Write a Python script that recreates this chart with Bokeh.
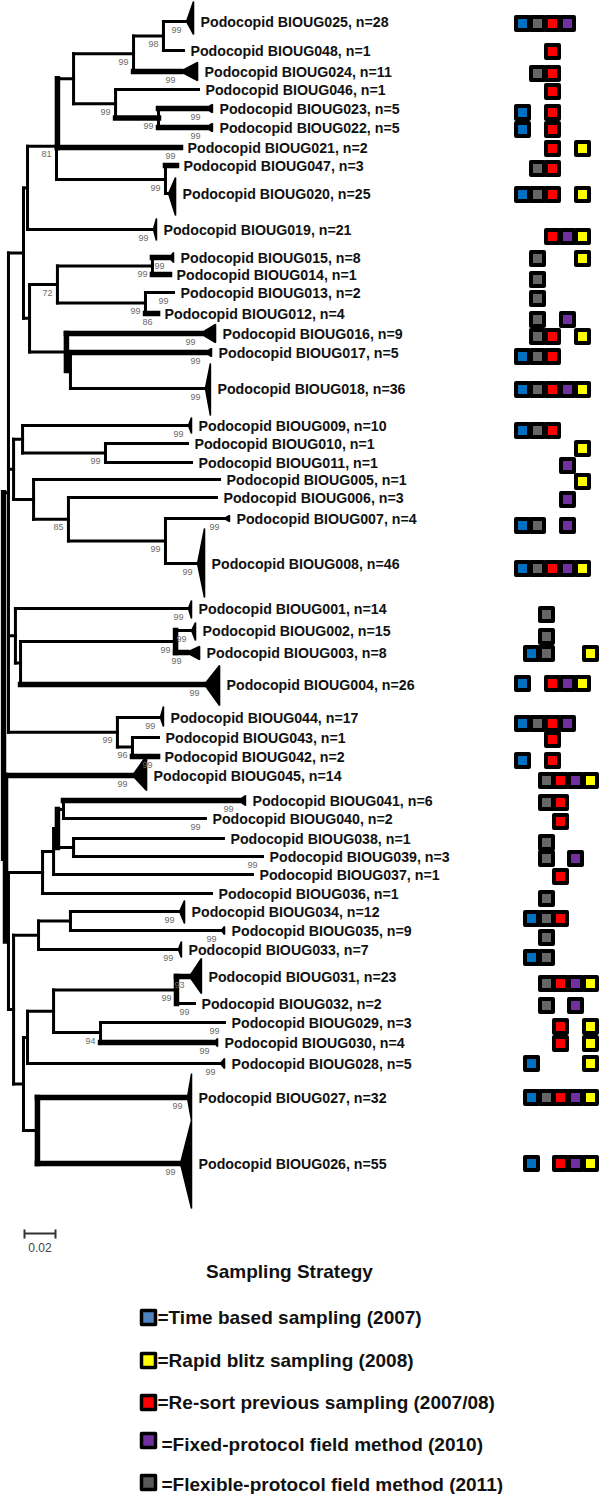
from bokeh.plotting import figure
from bokeh.models import Range1d
from bokeh.embed import file_html
from bokeh.resources import INLINE
from bokeh.core.properties import value

# ---------------- data ----------------
tip_ids = ["025", "048", "024", "046", "023", "022", "021", "047", "020", "019",
           "015", "014", "013", "012", "016", "017", "018",
           "009", "010", "011", "005", "006", "007", "008",
           "001", "002", "003", "004",
           "044", "043", "042", "045",
           "041", "040", "038", "039", "037", "036",
           "034", "035", "033", "031", "032", "029", "030", "028", "027", "026"]
tip_n = [28, 1, 11, 1, 5, 5, 2, 3, 25, 21,
         8, 1, 2, 4, 9, 5, 36,
         10, 1, 1, 1, 3, 4, 46,
         14, 15, 8, 26,
         17, 1, 2, 14,
         6, 2, 1, 3, 1, 1,
         12, 9, 7, 23, 2, 3, 4, 5, 32, 55]
# distance from root (substitutions/site) of each tip
tip_depth = [0.1226, 0.1161, 0.1252, 0.1258, 0.1348, 0.1348, 0.1142, 0.1116, 0.1110, 0.0987,
             0.1097, 0.1071, 0.1097, 0.0994, 0.1368, 0.1342, 0.1335,
             0.1213, 0.1187, 0.1213, 0.1394, 0.1374, 0.1458, 0.1297,
             0.1213, 0.1239, 0.1265, 0.1394,
             0.1032, 0.1000, 0.0994, 0.0923,
             0.1561, 0.1303, 0.1419, 0.1671, 0.1606, 0.1342,
             0.1168, 0.1426, 0.1148, 0.1277, 0.1232, 0.1426, 0.1381, 0.1426, 0.1213, 0.1213]
# depth of collapsed clades (triangle length)
tri_len = {"025": 0.0045, "024": 0.0110, "023": 0.0045, "022": 0.0045, "020": 0.0045,
           "019": 0.0020, "015": 0.0026, "016": 0.0097, "017": 0.0039, "018": 0.0032,
           "009": 0.0020, "007": 0.0032, "008": 0.0045, "001": 0.0020, "002": 0.0026,
           "003": 0.0084, "004": 0.0097, "044": 0.0020, "045": 0.0090, "041": 0.0045,
           "034": 0.0032, "035": 0.0020, "033": 0.0020, "031": 0.0077, "030": 0.0020,
           "028": 0.0026, "027": 0.0026, "026": 0.0071}
# internal nodes: (name, depth, children)
nodes = [
    ("nA", 0.1032, ["025", "048"]),
    ("nB", 0.0839, ["nA", "024"]),
    ("nC", 0.1000, ["023", "022"]),
    ("nD", 0.0723, ["046", "nC"]),
    ("nE", 0.0452, ["nB", "nD"]),
    ("nG1", 0.0348, ["nE", "021"]),
    ("nF", 0.1045, ["047", "020"]),
    ("nG", 0.0342, ["nG1", "nF"]),
    ("nH", 0.0155, ["nG", "019"]),
    ("nL", 0.0961, ["015", "014"]),
    ("nM", 0.0916, ["013", "012"]),
    ("nK", 0.0348, ["nL", "nM"]),
    ("nO", 0.0432, ["017", "018"]),
    ("nN", 0.0406, ["016", "nO"]),
    ("nJ", 0.0168, ["nK", "nN"]),
    ("nI", 0.0129, ["nH", "nJ"]),
    ("nP", 0.0658, ["010", "011"]),
    ("nQ", 0.0123, ["009", "nP"]),
    ("nT", 0.1045, ["007", "008"]),
    ("nU", 0.0419, ["006", "nT"]),
    ("nS", 0.0194, ["005", "nU"]),
    ("nR", 0.0065, ["nQ", "nS"]),
    ("nV", 0.1110, ["002", "003"]),
    ("nW", 0.0110, ["nV", "004"]),
    ("nX", 0.0077, ["001", "nW"]),
    ("nZ", 0.0832, ["043", "042"]),
    ("nY", 0.0735, ["044", "nZ"]),
    ("nAA", 0.0387, ["041", "040"]),
    ("nAB", 0.0452, ["038", "039"]),
    ("nAC", 0.0348, ["nAA", "nAB"]),
    ("nAD", 0.0323, ["nAC", "037"]),
    ("nAE", 0.0252, ["nAD", "036"]),
    ("nAF", 0.0432, ["034", "035"]),
    ("nAG", 0.0226, ["nAF", "033"]),
    ("nAH", 0.1116, ["031", "032"]),
    ("nAI", 0.0626, ["029", "030"]),
    ("nAJ", 0.0323, ["nAH", "nAI"]),
    ("nAK", 0.0155, ["nAJ", "028"]),
    ("nAM", 0.0219, ["027", "026"]),
    ("nAL", 0.0129, ["nAK", "nAM"]),
    ("nAN", 0.0065, ["nAG", "nAL"]),
    ("nAO", 0.0032, ["nAE", "nAN"]),
    ("nU2", 0.0013, ["045", "nAO"]),
    ("nU1", 0.0032, ["nI", "nR", "nX", "nY"]),
    ("root", 0.0000, ["nU1", "nU2"]),
]
bootstrap = {"nA": 98, "nB": 99, "nC": 99, "nD": 99, "nG": 81, "nF": 99, "nL": 99, "nK": 72,
             "nM": 99, "nP": 99, "nU": 85, "nT": 99, "nV": 99, "nY": 99, "nZ": 96,
             "nAH": 99, "nAI": 94,
             "025": 99, "024": 99, "023": 99, "022": 99, "021": 99, "019": 99, "015": 99,
             "013": 99, "012": 86, "016": 99, "017": 99, "018": 99, "009": 99, "007": 99,
             "008": 99, "001": 99, "002": 99, "003": 99, "004": 99, "044": 99, "042": 99,
             "045": 99, "041": 99, "040": 99, "039": 99, "034": 99, "035": 99, "033": 99,
             "031": 93, "032": 99, "029": 99, "030": 99, "028": 99, "027": 99, "026": 99}
# sampling strategies in which each OTU was found
# B=time based, Y=rapid blitz, R=re-sort, P=fixed-protocol, G=flexible-protocol
sampling = ["BGRP", "R", "GR", "R", "BR", "BR", "RY", "GR", "BGRY", "RPY",
            "GY", "G", "G", "GP", "GRY", "BGR", "BGRPY",
            "BGR", "Y", "P", "Y", "P", "BGP", "BGRPY",
            "G", "G", "BGY", "BRPY",
            "BGRP", "R", "BR", "GRPY",
            "GR", "R", "G", "GP", "R", "G",
            "BGR", "G", "BG", "GRPY", "GP", "RY", "RY", "BY", "BGRPY", "BRPY"]
legend_keys = ["B", "Y", "R", "P", "G"]
legend_labels = ["=Time based sampling (2007)", "=Rapid blitz sampling (2008)",
                 "=Re-sort previous sampling (2007/08)", "=Fixed-protocol field method (2010)",
                 "=Flexible-protocol field method (2011)"]
scale_len = 0.02

# ---------------- layout / style ----------------
TIP_Y = [21, 50, 71, 89, 108, 127, 147, 165, 193, 229,
         257, 274, 292, 313, 333, 352, 388,
         425, 443, 462, 479, 497, 518, 563,
         608, 630, 652, 684,
         717, 737, 756, 775,
         800, 818, 838, 856, 874, 893,
         911, 930, 949, 976, 1003, 1022, 1042, 1063, 1097, 1163]
BOX_Y = [23, 51, 73, 91, 112, 129, 148, 168, 194, 236,
         258, 279, 298, 319, 336, 356, 389,
         430, 448, 465, 481, 499, 525, 568,
         614, 636, 653, 683,
         723, 739, 760, 780,
         802, 821, 842, 858, 876, 898,
         918, 937, 957, 983, 1005, 1026, 1043, 1063, 1097, 1163]
TRI_SPAN = {"025": (20, 13), "024": (9, 9), "023": (4, 4), "022": (4, 4), "020": (16, 22),
            "019": (11, 11), "015": (5, 5), "016": (9, 9), "017": (4, 4), "018": (25, 27),
            "009": (8, 8), "007": (3, 3), "008": (35, 34), "001": (8, 10), "002": (8, 10),
            "003": (6, 7), "004": (19, 21), "044": (11, 9), "045": (20, 15), "041": (5, 5),
            "034": (11, 12), "035": (4, 4), "033": (8, 8), "031": (18, 17), "030": (4, 4),
            "028": (5, 5), "027": (24, 23), "026": (43, 45)}
THICK = {"024", "023", "022", "nC", "021", "v:nG1", "047", "015", "014", "012", "016", "017",
         "v:nN", "003", "v:nV", "004", "042", "045", "041", "v:nAC", "031", "v:nAH", "030",
         "027", "026", "v:nAM", "v:nU2", "v:root"}
COL_UP = {"B": 522, "G": 537, "R": 552, "P": 567, "Y": 582}
COL_LOW = {"B": 531, "G": 546, "R": 560, "P": 575, "Y": 590}
LOW_ROWS = {"001", "002", "003", "045", "041", "040", "038", "039", "037", "036",
            "034", "035", "033", "031", "032", "029", "030", "028", "027", "026"}
BOX_COL = {"B": "#0070C0", "G": "#666666", "R": "#FF0000", "P": "#7030A0", "Y": "#FFFF00"}
LEG_COL = {"B": "#4F81BD", "G": "#595959", "R": "#FF0000", "P": "#7030A0", "Y": "#FFFF00"}
LEG_Y = [1317, 1360, 1402, 1440, 1482]
LEG_TY = [1317, 1360, 1402, 1444, 1484]
LEG_TX = [157, 157, 157, 161, 161]
PX_PER_UNIT = 1550.0
ROOT_PX = 3.0
FONT = value("Liberation Sans")

# ---------------- build tree geometry ----------------
DEPTH, Y = {}, {}
for t, d, yy in zip(tip_ids, tip_depth, TIP_Y):
    DEPTH[t] = d
    Y[t] = yy


def branch_end(name):
    if name in tri_len:
        return DEPTH[name] - tri_len[name]
    return DEPTH[name]


segs = {"thin": ([], [], [], []), "thick": ([], [], [], [])}


def add_seg(x0, y0, x1, y1, key):
    grp = segs["thick" if key in THICK else "thin"]
    grp[0].append(x0); grp[1].append(y0); grp[2].append(x1); grp[3].append(y1)


for name, d, ch in nodes:
    DEPTH[name] = d
    Y[name] = (Y[ch[0]] + Y[ch[-1]]) / 2.0
    add_seg(d, Y[ch[0]], d, Y[ch[-1]], "v:" + name)
    for c in ch:
        add_seg(d, Y[c], branch_end(c), Y[c], c)

# ---------------- figure ----------------
W, H = 600, 1494
p = figure(width=W, height=H, x_range=Range1d(0, W), y_range=Range1d(H, 0),
           output_backend="svg", toolbar_location=None, min_border=0,
           x_axis_location=None, y_axis_location=None)
p.extra_x_ranges = {"dist": Range1d((0 - ROOT_PX) / PX_PER_UNIT, (W - ROOT_PX) / PX_PER_UNIT)}
p.grid.visible = False
p.outline_line_color = None
p.background_fill_color = "white"
p.border_fill_color = "white"

for key, lw in (("thin", 3), ("thick", 5.5)):
    x0, y0, x1, y1 = segs[key]
    p.segment(x0=x0, y0=y0, x1=x1, y1=y1, line_color="black", line_width=lw,
              line_cap="square", x_range_name="dist")

# collapsed clade triangles
txs, tys = [], []
for t, L in tri_len.items():
    up, dn = TRI_SPAN[t]
    txs.append([DEPTH[t] - L, DEPTH[t], DEPTH[t]])
    tys.append([Y[t], Y[t] - up, Y[t] + dn])
p.patches(xs=txs, ys=tys, fill_color="black", line_color="black", line_width=1.5,
          x_range_name="dist")

# tip labels
labels = ["Podocopid BIOUG%s, n=%d" % (t, n) for t, n in zip(tip_ids, tip_n)]
p.text(x=tip_depth, y=TIP_Y, text=labels, x_offset=7, text_font=FONT,
       text_font_size="14.2px", text_font_style="bold", text_color="#111111",
       text_baseline="middle", text_align="left", x_range_name="dist")

# bootstrap values
bx, by, bt = [], [], []
for k, v in bootstrap.items():
    bx.append(branch_end(k) if k in tip_ids else DEPTH[k])
    by.append(Y[k] + 8)
    bt.append(str(v))
p.text(x=bx, y=by, text=bt, x_offset=-10, text_font=FONT, text_font_size="9px",
       text_color="#6a6a6a", text_baseline="middle", text_align="center",
       x_range_name="dist")

# sampling strategy boxes
sx, sy, sc = [], [], []
for t, s, yy in zip(tip_ids, sampling, BOX_Y):
    cols = COL_LOW if t in LOW_ROWS else COL_UP
    for k in s:
        sx.append(cols[k]); sy.append(yy); sc.append(BOX_COL[k])
p.scatter(x=sx, y=sy, marker="square", size=13, fill_color=sc, line_color="black",
          line_width=4, line_join="round")

# scale bar
sb0 = (24 - ROOT_PX) / PX_PER_UNIT
p.segment(x0=[sb0], y0=[1233], x1=[sb0 + scale_len], y1=[1233], line_color="#333333",
          line_width=2, x_range_name="dist")
p.segment(x0=[sb0, sb0 + scale_len], y0=[1229, 1229], x1=[sb0, sb0 + scale_len],
          y1=[1238, 1238], line_color="#333333", line_width=2, x_range_name="dist")
p.text(x=[sb0 + scale_len / 2], y=[1247], text=["0.02"], text_font=FONT,
       text_font_size="12px", text_color="#444444", text_align="center",
       text_baseline="middle", x_range_name="dist")

# legend
p.text(x=[289], y=[1271], text=["Sampling Strategy"], text_font=FONT, text_font_size="19px",
       text_font_style="bold", text_color="#111111", text_align="center",
       text_baseline="middle")
p.scatter(x=[148] * 5, y=LEG_Y, marker="square", size=14,
          fill_color=[LEG_COL[k] for k in legend_keys], line_color="black", line_width=3.5,
          line_join="round")
p.text(x=LEG_TX, y=LEG_TY, text=legend_labels, text_font=FONT, text_font_size="19px",
       text_font_style="bold", text_color="#111111", text_align="left",
       text_baseline="middle")

open("out.html", "w").write(file_html(p, INLINE))
